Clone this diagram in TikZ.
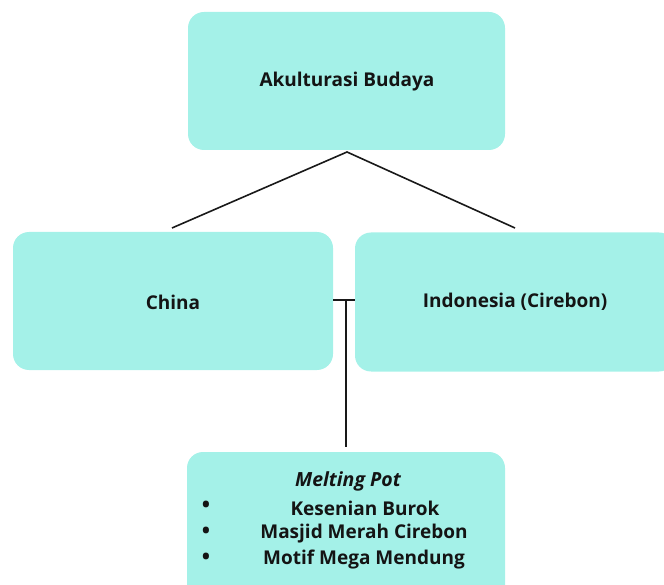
\documentclass[tikz,border=0pt]{standalone}
\usepackage{fontspec}
\setmainfont{Open Sans}
\definecolor{boxfill}{HTML}{A4F1E8}
\begin{document}
\begin{tikzpicture}[x=1pt,y=-1pt,
  box/.style={draw=none,fill=boxfill,rounded corners=16pt,inner sep=0pt},
  lbl/.style={font=\fontsize{19}{22}\selectfont\bfseries,text=black!92,inner sep=0pt},
  bul/.style={lbl,font=\fontsize{22}{24}\selectfont\bfseries},
  conn/.style={draw=black!90,line width=1.6pt}]
\useasboundingbox (0,0) rectangle (664,585);
\clip (0,0) rectangle (664,585);
\node[box,minimum width=317pt,minimum height=138pt] (top) at (346.5,81) {};
\node[box,minimum width=320pt,minimum height=138pt] (china) at (173,301) {};
\node[box,minimum width=320pt,minimum height=139pt] (indo) at (515,302) {};
\node[box,minimum width=318pt,minimum height=150pt] (bot) at (346,527) {};
\node[lbl] (ttop) at (347,82) {Akulturasi Budaya};
\node[lbl] (tchina) at (173,302) {China};
\node[lbl] (tindo) at (515,302) {Indonesia (Cirebon)};
\node[lbl,font=\fontsize{19.5}{22}\selectfont\bfseries\itshape] (mp) at (348,481) {Melting Pot};
\node[lbl] (i1) at (365,508) {Kesenian Burok};
\node[lbl] (i2) at (364,534) {Masjid Merah Cirebon};
\node[lbl] (i3) at (364,560) {Motif Mega Mendung};
\node[bul] (b1) at (206,507) {•};
\node[bul] (b2) at (206,533) {•};
\node[bul] (b3) at (206,559) {•};
\coordinate (apex) at (347,152);
\coordinate (lend) at (172,228);
\coordinate (rend) at (515,228);
\coordinate (jn) at (346,300);
\coordinate (vend) at (346,447);
\draw[conn] (lend) -- (apex) -- (rend);
\draw[conn] (china.east |- jn) -- (indo.west |- jn);
\draw[conn] (jn) -- (vend);
\end{tikzpicture}
\end{document}
